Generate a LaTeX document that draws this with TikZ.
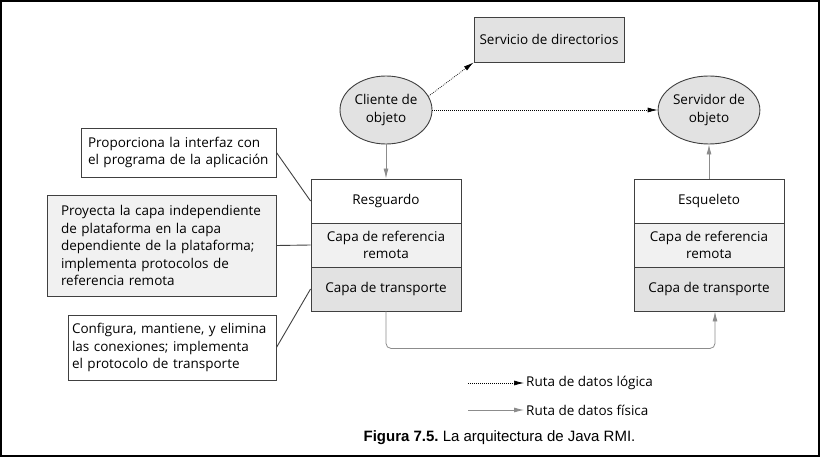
\documentclass[tikz,border=0pt]{standalone}
\usepackage{fontspec}
\setmainfont{Open Sans}
\newfontfamily\piefont{Liberation Sans}
\usetikzlibrary{shapes.geometric,arrows.meta}

\definecolor{linea}{HTML}{404040}
\definecolor{grisflecha}{HTML}{8C8C8C}
\definecolor{relleno}{HTML}{E2E2E2}
\definecolor{claro}{HTML}{F1F1F1}

\begin{document}
\begin{tikzpicture}[x=1pt,y=-1pt,
  every node/.style={font=\fontsize{13.5}{17.5}\selectfont},
  elipse/.style={ellipse,draw=linea,line width=0.9pt,fill=relleno,minimum width=92pt,minimum height=68pt,inner sep=0pt,align=center},
  celda/.style={rectangle,draw=linea,line width=0.9pt,minimum width=150pt,minimum height=44pt,inner sep=0pt,align=center},
  nota/.style={rectangle,draw=linea,line width=0.9pt,align=left,inner ysep=0pt},
  logica/.style={line width=0.7pt,dash pattern=on 0.8pt off 1.2pt,-{Latex[length=10pt,width=5pt]}},
  fisica/.style={grisflecha,line width=0.8pt,-{Latex[length=10pt,width=5pt]}},
  guia/.style={draw=linea,line width=0.9pt}]
  \useasboundingbox (0,0) rectangle (820,457);
  \draw[line width=2pt] (1,1) rectangle (819,456);

  % objetos y servicio
  \node[celda,fill=relleno,minimum height=45pt] (directorio) at (549,39.5) {Servicio de directorios};
  \node[elipse] (cliente) at (386,110) {Cliente de\\objeto};
  \node[elipse] (servidor) at (709,110) {Servidor de\\objeto};

  % pila del cliente
  \node[celda,fill=white] (resguardo) at (386,201) {Resguardo};
  \node[celda,fill=claro] (rref) at (386,245) {Capa de referencia\\remota};
  \node[celda,fill=relleno] (rtrans) at (386,289) {Capa de transporte};

  % pila del servidor
  \node[celda,fill=white] (esqueleto) at (709,201) {Esqueleto};
  \node[celda,fill=claro] (eref) at (709,245) {Capa de referencia\\remota};
  \node[celda,fill=relleno] (etrans) at (709,289) {Capa de transporte};

  % notas
  \node[nota,fill=white,minimum height=49pt,inner xsep=7pt,text width=181pt] (nota1) at (178.5,152.5)
    {Proporciona la interfaz con\\el programa de la aplicación};
  \node[nota,fill=claro,minimum height=101pt,inner xsep=14pt,text width=201pt] (nota2) at (161.5,245.5)
    {Proyecta la capa independiente\\de plataforma en la capa\\dependiente de la plataforma;\\implementa protocolos de\\referencia remota};
  \node[nota,fill=white,minimum height=65pt,inner xsep=4pt,text width=200pt] (nota3) at (172,347.5)
    {Configura, mantiene, y elimina\\las conexiones; implementa\\el protocolo de transporte};

  \draw[guia] (nota1.east) -- (resguardo.west);
  \draw[guia] (nota2.east) -- (rref.west);
  \draw[guia] (nota3.east) -- (rtrans.west);

  \draw[logica] (cliente.18) -- (directorio.south west);
  \draw[logica] (cliente.east) -- (servidor.west);
  \draw[fisica] (cliente.south) -- (resguardo.north);
  \draw[fisica] (esqueleto.north) -- (servidor.south);
  \draw[fisica,rounded corners=5pt] (rtrans.south) -- ++(0,37) -| ([xshift=6pt]etrans.south);

  % leyenda
  \coordinate (l1) at (468,383);
  \coordinate (l2) at (468,410);
  \node[anchor=west,inner xsep=2pt] (ley1) at (524,383) {Ruta de datos lógica};
  \node[anchor=west,inner xsep=2pt] (ley2) at (524,410) {Ruta de datos física};
  \draw[logica] (l1) -- (ley1.west);
  \draw[fisica] (l2) -- (ley2.west);

  \node[font=\piefont\fontsize{15}{18}\selectfont] (pie) at (499.5,438)
    {\frenchspacing\textbf{Figura 7.5.} La arquitectura de Java RMI.};
\end{tikzpicture}
\end{document}
